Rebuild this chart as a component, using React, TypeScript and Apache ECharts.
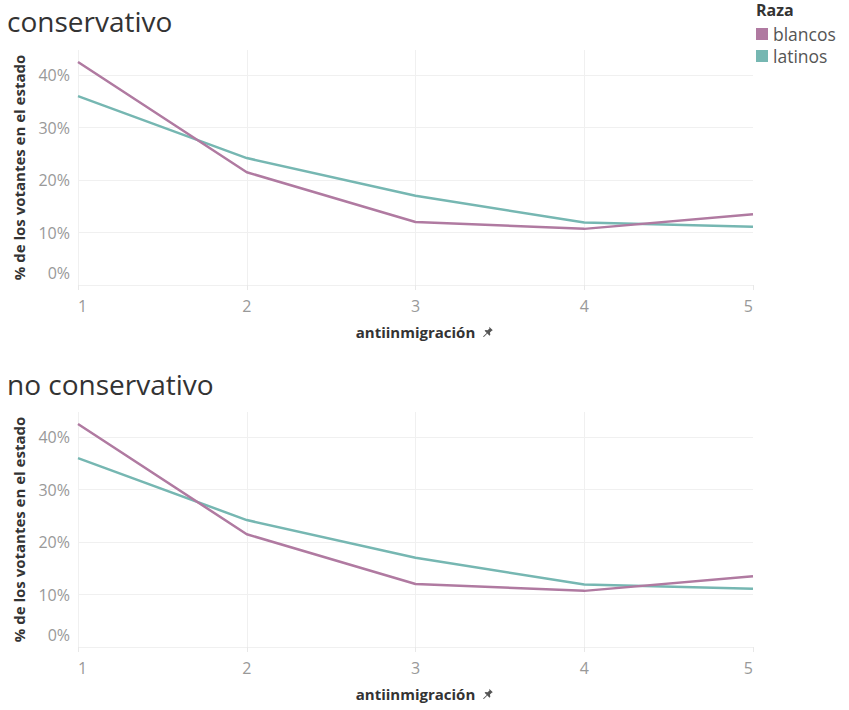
import React, { useEffect, useRef } from "react";
import * as echarts from "echarts";

const xValues = [1, 2, 3, 4, 5];
const blancos = [0.425, 0.215, 0.12, 0.107, 0.135];
const latinos = [0.36, 0.242, 0.17, 0.119, 0.111];
const panels = ["conservativo", "no conservativo"];
const seriesNames = ["blancos", "latinos"];
const legendTitle = "Raza";
const yAxisName = "% de los votantes en el estado";
const xAxisName = "antiinmigración";

const COLORS = ["#b07aa1", "#76b7b2"];
const FONT = "'Open Sans', 'Noto Sans', sans-serif";

const PIN_D =
  "M10 1 L15 6 L13.6 6.6 L11 9.2 L11.6 12.2 L10.4 13.4 L7.4 10.4 L2.6 15.2 L1.8 15.2 L1.8 14.4 L6.6 9.6 L3.6 6.6 L4.8 5.4 L7.8 6 L10.4 3.4 Z";

export default function App() {
  const ref = useRef<HTMLDivElement>(null);
  useEffect(() => {
    if (!ref.current) return;
    try {
      echarts.graphic.registerShape("pin", echarts.graphic.extendPath(PIN_D, {}));
    } catch (e) {}
    const chart = echarts.init(ref.current, null, { renderer: "svg" });
    const grids = [
      { left: 78, right: 96, top: 50, height: 235 },
      { left: 78, right: 96, top: 412, height: 235 },
    ];
    const seriesData = [blancos, latinos];
    const option: any = {
      animation: false,
      backgroundColor: "#ffffff",
      textStyle: { fontFamily: FONT },
      title: [
        { text: panels[0], left: 2, top: 2, textStyle: { fontFamily: FONT, fontSize: 28, fontWeight: "normal", color: "#333333" } },
        { text: panels[1], left: 2, top: 365, textStyle: { fontFamily: FONT, fontSize: 28, fontWeight: "normal", color: "#333333" } },
        { text: legendTitle, left: 751, top: -3, textStyle: { fontFamily: FONT, fontSize: 16, fontWeight: "bold", color: "#333333" } },
      ],
      legend: {
        data: seriesNames,
        orient: "vertical",
        left: 751,
        top: 20,
        icon: "rect",
        itemWidth: 12,
        itemHeight: 12,
        itemGap: 4,
        textStyle: { fontFamily: FONT, fontSize: 17.5, color: "#555555", padding: [0, 0, 0, 0] },
      },
      grid: grids,
      xAxis: grids.map((_, i) => ({
        type: "value",
        gridIndex: i,
        min: 1,
        max: 5,
        interval: 1,
        name: xAxisName,
        nameLocation: "middle",
        nameGap: 39,
        nameTextStyle: { fontFamily: FONT, fontSize: 15, fontWeight: "bold", color: "#333333" },
        axisLine: { show: false },
        axisTick: { show: true, length: 5, lineStyle: { color: "#e8e8e8" } },
        axisLabel: {
          fontFamily: FONT,
          fontSize: 16,
          color: "#999999",
          margin: 13,
          alignMinLabel: "left",
          alignMaxLabel: "right",
        },
        splitLine: { show: true, showMinLine: true, showMaxLine: false, lineStyle: { color: "#f0f0f0", width: 1 } },
      })),
      yAxis: grids.map((_, i) => ({
        type: "value",
        gridIndex: i,
        min: 0,
        max: 0.448,
        interval: 0.1,
        name: yAxisName,
        nameLocation: "middle",
        nameGap: 52,
        nameTextStyle: { fontFamily: FONT, fontSize: 15, fontWeight: "bold", color: "#333333" },
        axisLine: { show: false },
        axisTick: { show: false },
        axisLabel: {
          fontFamily: FONT,
          fontSize: 16,
          color: "#999999",
          margin: 8,
          showMaxLabel: false,
          formatter: (v: number) => {
            const p = Math.round(v * 100);
            if (p % 10 !== 0 || v > 0.41) return "";
            if (p === 0) return "{z|0%}";
            return p + "%";
          },
          rich: {
            z: { fontFamily: FONT, fontSize: 16, color: "#999999", padding: [0, 0, 24, 0] },
          },
        },
        splitLine: { show: true, showMaxLine: false, lineStyle: { color: "#f0f0f0", width: 1 } },
      })),
      series: grids.flatMap((_, gi) =>
        seriesNames.map((name, si) => ({
          type: "line",
          name,
          xAxisIndex: gi,
          yAxisIndex: gi,
          data: xValues.map((x, k) => [x, seriesData[si][k]]),
          showSymbol: false,
          symbol: "none",
          lineStyle: { color: COLORS[si], width: 2.5 },
          itemStyle: { color: COLORS[si] },
          z: si === 0 ? 3 : 2,
        }))
      ),
      graphic: [0, 1].map((i) => ({
        type: "pin",
        x: 482,
        y: i === 0 ? 326 : 688,
        scaleX: 0.72,
        scaleY: 0.72,
        style: { fill: "#555555" },
      })),
    };
    chart.setOption(option);
    return () => chart.dispose();
  }, []);
  return <div ref={ref} style={{ width: 849, height: 710, position: "absolute", left: 0, top: 0 }} />;
}
